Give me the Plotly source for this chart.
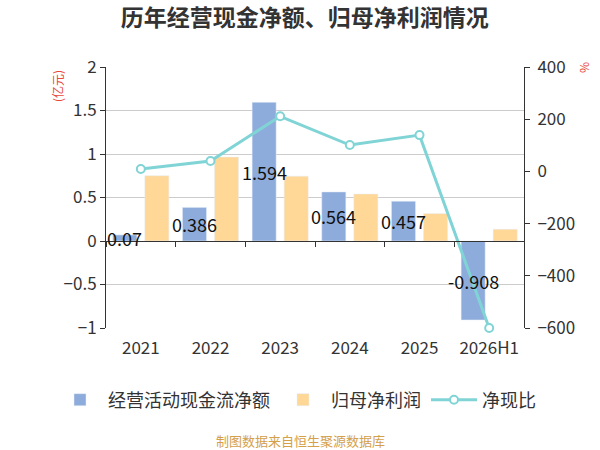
import plotly.graph_objects as go

years = ["2021", "2022", "2023", "2024", "2025", "2026H1"]
cash_flow = [0.07, 0.386, 1.594, 0.564, 0.457, -0.908]
net_profit = [0.75, 0.965, 0.745, 0.54, 0.315, 0.135]
cash_ratio = [9, 40, 211, 101, 139, -600]

FONT = "Noto Sans CJK SC"
TXT = "#333333"
W, H = 600, 450
L, R, T, B = 106, 76, 67, 122
y_rng = [-1, 2]
y2_rng = [-600, 400]
x_rng = [-0.5, len(years) - 0.5]

fig = go.Figure()
fig.add_trace(go.Bar(x=years, y=cash_flow, name="经营活动现金流净额",
                     marker=dict(color="#8eacdb")))
fig.add_trace(go.Bar(x=years, y=net_profit, name="归母净利润",
                     marker=dict(color="#ffd797")))
fig.add_trace(go.Scatter(x=years, y=cash_ratio, name="净现比", xaxis="x2", yaxis="y2",
                         mode="lines+markers", cliponaxis=False,
                         line=dict(color="#80d4d6", width=3),
                         marker=dict(symbol="circle", size=8, color="white",
                                     line=dict(color="#80d4d6", width=2))))

# value labels in the middle of the cash-flow bars (x given as category index)
cat_w = (W - L - R) / len(years)
shift = -cat_w * (1 - 0.08) / 4
for i, v in enumerate(cash_flow):
    fig.add_annotation(x=i, y=v / 2, xref="x", yref="y", text=str(v), showarrow=False,
                       xshift=shift, font=dict(size=18, color="#111111"))

plot_w = W - L - R
plot_h = H - T - B
def px(x):
    return (x - L) / plot_w
def py(y):
    return (H - B - y) / plot_h

fig.add_annotation(xref="paper", yref="paper", x=px(58), y=py(86), xanchor="center",
                   yanchor="middle", text="(亿元)", textangle=-90, showarrow=False,
                   font=dict(size=12, color="#e8473b"))
fig.add_annotation(xref="paper", yref="paper", x=px(583), y=py(68), xanchor="center",
                   yanchor="middle", text="%", textangle=-90, showarrow=False,
                   font=dict(size=12, color="#e8473b"))
fig.add_annotation(xref="paper", yref="paper", x=px(300), y=py(440), xanchor="center",
                   yanchor="middle", text="制图数据来自恒生聚源数据库", showarrow=False,
                   font=dict(size=13, color="#d4a04a"))

zero_pos = (0 - y_rng[0]) / (y_rng[1] - y_rng[0])

fig.update_layout(
    width=W, height=H,
    margin=dict(l=L, r=R, t=T, b=B),
    paper_bgcolor="white", plot_bgcolor="white",
    font=dict(family=FONT, size=17, color=TXT),
    title=dict(text="<b>历年经营现金净额、归母净利润情况</b>", x=0.508, xanchor="center",
               y=1 - 18 / H, yanchor="middle", font=dict(size=23, color=TXT)),
    barmode="group", bargap=0.08, bargroupgap=0.25,
    showlegend=True,
    legend=dict(orientation="h", x=px(52), xanchor="left", y=py(400), yanchor="middle",
                font=dict(size=18, color=TXT), itemwidth=46, traceorder="normal"),
    xaxis=dict(type="category", showline=False, ticks="", showgrid=False, range=x_rng,
               categoryorder="array", categoryarray=years, ticklabelstandoff=8,
               tickfont=dict(size=17, color=TXT), zeroline=False),
    xaxis2=dict(type="category", overlaying="x", anchor="free", position=zero_pos,
                categoryorder="array", categoryarray=years, range=x_rng,
                showline=True, linecolor=TXT, linewidth=1, ticks="outside",
                tickson="boundaries", ticklen=5, tickcolor=TXT,
                showticklabels=False, showgrid=False, zeroline=False),
    yaxis=dict(range=y_rng, dtick=0.5, showline=True, linecolor=TXT, ticks="outside",
               ticklen=5, tickcolor=TXT, showgrid=True, gridcolor="#cccccc",
               zeroline=False, tickfont=dict(size=17, color=TXT)),
    yaxis2=dict(range=y2_rng, dtick=200, overlaying="y", side="right", anchor="x2",
                showline=True, linecolor=TXT, ticks="outside", ticklen=5, tickcolor=TXT,
                showgrid=False, zeroline=False, ticklabelstandoff=4,
                tickfont=dict(size=17, color=TXT)),
)

fig.write_html("out.html", config={"displayModeBar": False},
               post_script="document.body.style.margin='0';")
